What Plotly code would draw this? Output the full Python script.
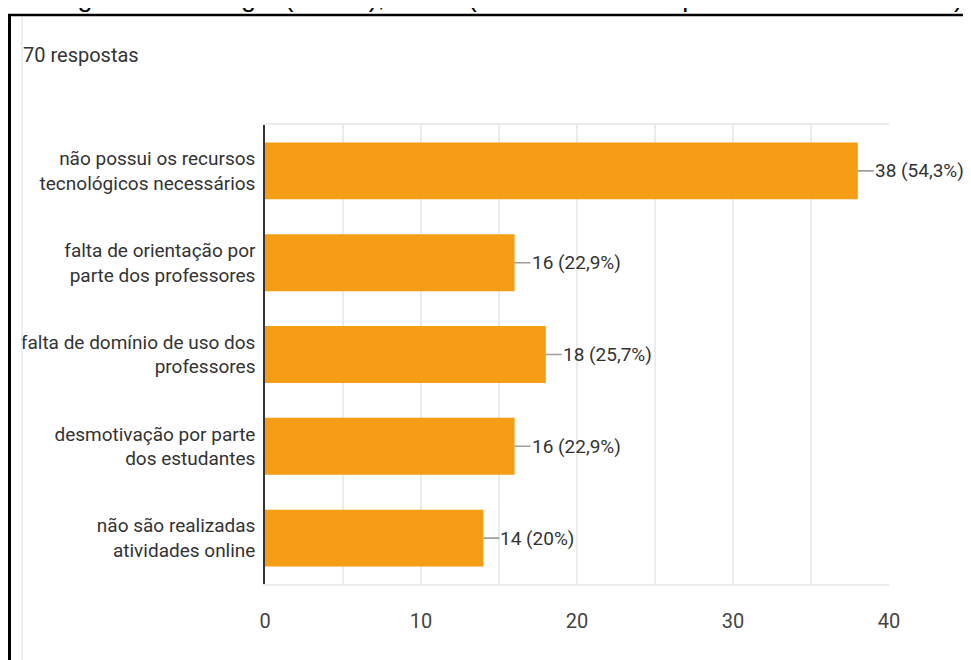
import plotly.graph_objects as go

categories = [
    "não possui os recursos<br>tecnológicos necessários",
    "falta de orientação por<br>parte dos professores",
    "falta de domínio de uso dos<br>professores",
    "desmotivação por parte<br>dos estudantes",
    "não são realizadas<br>atividades online",
]
counts = [38, 16, 18, 16, 14]
total_responses = 70
x_ticks = [0, 10, 20, 30, 40]

def pct_label(v):
    p = round(v / total_responses * 100, 1)
    s = f"{p:.1f}".replace(".", ",")
    if s.endswith(",0"):
        s = s[:-2]
    return f"{v} ({s}%)"

labels = [pct_label(v) for v in counts]

# page has an 8px body margin; work in page pixel coordinates
OFF = 8
W, H = 971 - OFF, 660 - OFF
PL, PR, PT, PB = 265, 889, 125, 584   # plot area in page pixels
L, T = PL - OFF, PT - OFF
R = W - (PR - OFF)
B = (H + OFF) - PB
pw, ph = W - L - R, H - T - B

def px_x(px):
    return (px - OFF - L) / pw

def px_y(py):
    return (PB - py) / ph

FONT = "Roboto, Arial, sans-serif"
ORANGE = "#F59D15"

fig = go.Figure()
fig.add_trace(go.Bar(
    y=categories, x=counts, orientation="h",
    marker=dict(color=ORANGE, line=dict(width=0)),
    width=0.62, hoverinfo="skip",
))

annotations = []
for c, v, lab in zip(categories, counts, labels):
    annotations.append(dict(
        x=v, y=c, xref="x", yref="y", text=lab,
        showarrow=True, arrowhead=0, arrowwidth=1.6, arrowcolor="#9e9e9e",
        ax=16, ay=0, xanchor="left", borderpad=0,
        font=dict(family=FONT, size=19, color="#333333"),
    ))

annotations.append(dict(
    x=px_x(21), y=px_y(55), xref="paper", yref="paper",
    text="70 respostas", showarrow=False, xanchor="left", yanchor="middle",
    font=dict(family=FONT, size=20, color="#333333"),
))
annotations.append(dict(
    x=px_x(50), y=px_y(-3), xref="paper", yref="paper",
    text="Digitais no Colégio (CEAC), 2021. (Mais de um item poderia ser assinalado).",
    showarrow=False, xanchor="left", yanchor="middle",
    font=dict(family="Liberation Sans, Arial, sans-serif", size=27, color="#000000"),
))

shapes = [
    dict(type="line", xref="paper", yref="paper", x0=px_x(9.5), x1=px_x(9.5),
         y0=px_y(14), y1=px_y(670), line=dict(color="#000000", width=3)),
    dict(type="line", xref="paper", yref="paper", x0=px_x(8), x1=px_x(980),
         y0=px_y(15), y1=px_y(15), line=dict(color="#000000", width=2.5)),
    dict(type="line", xref="paper", yref="paper", x0=px_x(22), x1=px_x(22),
         y0=px_y(17), y1=px_y(670), line=dict(color="#e4e4e4", width=1.2)),
]

fig.update_layout(
    width=W, height=H,
    margin=dict(l=L, r=R, t=T, b=B, pad=0, autoexpand=False),
    paper_bgcolor="white", plot_bgcolor="white",
    showlegend=False, bargap=0.38,
    annotations=annotations, shapes=shapes,
    font=dict(family=FONT, color="#333333"),
)
fig.update_xaxes(
    range=[0, 40], tickvals=x_ticks, ticks="", automargin=False,
    showgrid=True, gridcolor="#ebebeb", gridwidth=1.5,
    minor=dict(dtick=5, showgrid=True, gridcolor="#ebebeb", gridwidth=1.5),
    showline=True, linecolor="#ebebeb", linewidth=2, mirror=True,
    zeroline=False, ticklabelstandoff=18,
    tickfont=dict(family=FONT, size=20, color="#444444"),
)
fig.update_yaxes(
    categoryorder="array", categoryarray=categories[::-1], automargin=False,
    showline=True, linecolor="#333333", linewidth=1.5,
    showgrid=False, zeroline=False, ticks="", ticklabelstandoff=4,
    tickfont=dict(family=FONT, size=19, color="#333333"),
)

fig.write_html("out.html")
